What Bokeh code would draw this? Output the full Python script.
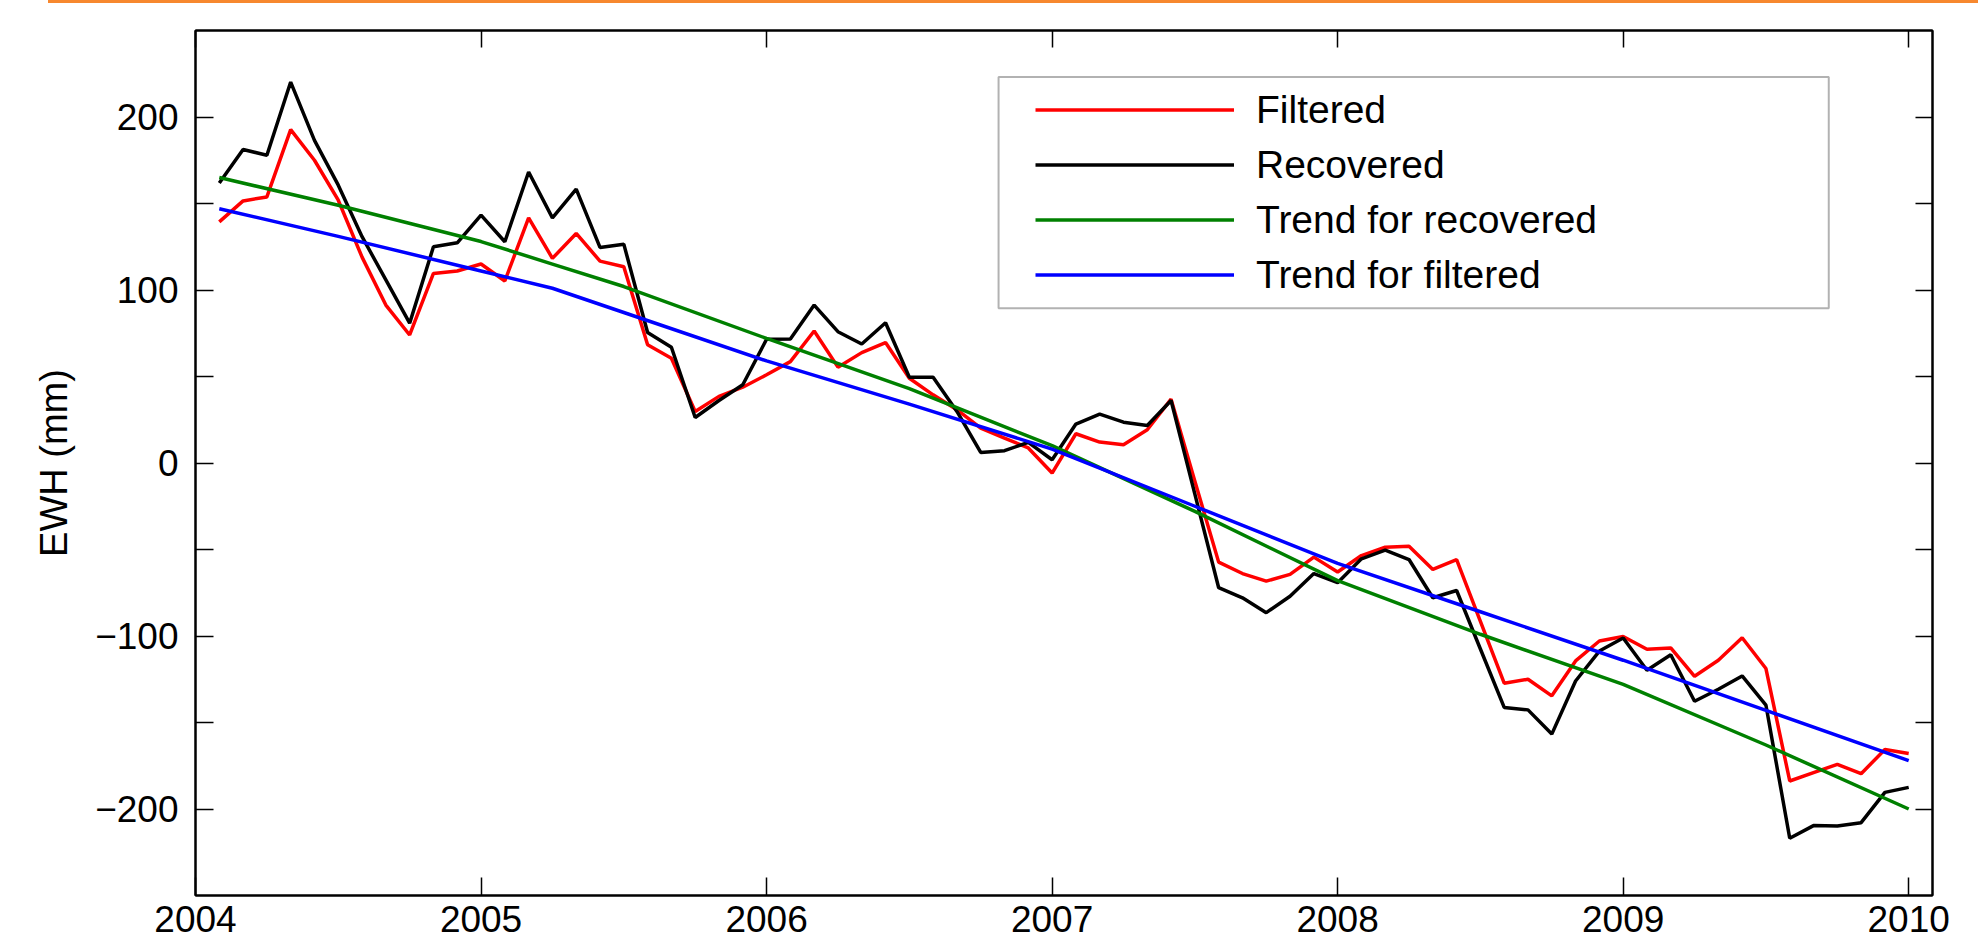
from bokeh.plotting import figure
from bokeh.models import (Range1d, LinearAxis, FixedTicker, Legend, LegendItem,
                          BoxAnnotation, Div)
from bokeh.layouts import column
from bokeh.embed import file_html
from bokeh.resources import INLINE

# ---------------- data (monthly, month index 1 = Feb 2004 ... 72 = Jan 2010) ----
months = list(range(1, 73))
recovered = [161.9, 181.2, 177.9, 220.2, 186.5, 160.6, 130.8, 105.8, 80.8, 125.0,
             127.3, 143.3, 127.9, 168.2, 141.7, 158.3, 124.6, 126.5, 75.4, 66.9,
             26.3, 36.1, 45.2, 71.5, 71.7, 91.3, 75.9, 68.8, 81.1, 49.6,
             49.6, 29.8, 6.1, 7.1, 11.9, 1.9, 22.5, 28.3, 23.6, 21.7,
             36.1, -18.0, -72.1, -77.9, -86.5, -77.0, -63.9, -69.2, -55.4, -50.4,
             -55.8, -77.9, -73.7, -107.5, -141.3, -142.7, -156.7, -126.0, -108.7, -101.2,
             -119.8, -110.8, -137.7, -130.8, -123.1, -140.0, -216.9, -209.6, -209.8, -207.9,
             -190.4, -187.5]
filtered = [139.4, 151.5, 153.8, 192.7, 175.0, 151.9, 119.0, 91.3, 74.0, 109.6,
            111.0, 115.0, 105.2, 141.7, 118.3, 132.7, 116.7, 113.4, 68.3, 60.6,
            29.8, 38.5, 43.8, 51.0, 58.6, 76.3, 55.4, 63.8, 69.6, 49.0,
            39.4, 30.8, 20.2, 14.4, 8.7, -5.8, 16.9, 12.1, 10.6, 19.2,
            36.9, -10.5, -57.3, -63.9, -68.3, -64.4, -54.4, -63.0, -53.5, -48.7,
            -48.1, -61.5, -55.8, -91.6, -127.3, -125.0, -134.6, -114.4, -102.9, -100.3,
            -107.7, -106.9, -123.3, -114.0, -101.0, -118.8, -183.8, -179.0, -174.2, -179.6,
            -165.6, -167.9]
trend_months = [1, 6, 12, 15, 18, 24, 30, 36, 42, 48, 54, 60, 66, 72]
trend_recovered = [165, 149, 128, 115, 102, 72, 43, 10, -28, -68, -99, -128, -163, -200]
trend_filtered = [147, 131, 111, 101, 87, 59, 34, 8, -25, -58, -86, -114, -143, -172]

year_ticks = [2004, 2005, 2006, 2007, 2008, 2009, 2010]
year_labels = ["2004", "2005", "2006", "2007", "2008", "2009", "2010"]
ewh_ticks = [-200, -100, 0, 100, 200]
ewh_labels = ["\u2212200", "\u2212100", "0", "100", "200"]
ewh_minor = [-150, -50, 50, 150]
series_names = ["Filtered", "Recovered", "Trend for recovered", "Trend for filtered"]

t = [2004 + m / 12 for m in months]
t_trend = [2004 + m / 12 for m in trend_months]

FONT = "Liberation Sans"

p = figure(width=1965, height=942, output_backend="svg", toolbar_location=None, tools="",
           x_range=Range1d(2004, 2010 + 1 / 12), y_range=Range1d(-250, 250),
           min_border_left=195, min_border_right=33, min_border_top=27, min_border_bottom=50)
p.xgrid.visible = False
p.ygrid.visible = False
p.outline_line_color = "black"
p.outline_line_width = 2
p.background_fill_color = "white"
p.border_fill_color = "white"

r_f = p.line(t, filtered, line_color="#ff0000", line_width=3.5)
r_r = p.line(t, recovered, line_color="black", line_width=3.5)
r_tr = p.line(t_trend, trend_recovered, line_color="#008000", line_width=3.5)
r_tf = p.line(t_trend, trend_filtered, line_color="#0000ff", line_width=3.5)

xb = p.xaxis[0]
xb.ticker = FixedTicker(ticks=year_ticks, minor_ticks=[])
xb.major_label_overrides = {k: v for k, v in zip(year_ticks, year_labels)}
yl = p.yaxis[0]
yl.ticker = FixedTicker(ticks=ewh_ticks, minor_ticks=ewh_minor)
yl.major_label_overrides = {k: v for k, v in zip(ewh_ticks, ewh_labels)}
yl.axis_label = "EWH (mm)"
yl.axis_label_text_font = FONT
yl.axis_label_text_font_size = "38px"
yl.axis_label_text_font_style = "normal"
yl.axis_label_text_color = "black"
yl.axis_label_standoff = 17

for ax in (xb, yl):
    ax.major_tick_in = 18
    ax.major_tick_out = 0
    ax.minor_tick_in = 18
    ax.minor_tick_out = 0
    ax.axis_line_color = "black"
    ax.axis_line_width = 2
    ax.major_tick_line_color = "black"
    ax.major_tick_line_width = 1.5
    ax.minor_tick_line_color = "black"
    ax.minor_tick_line_width = 1.5
    ax.major_label_text_font = FONT
    ax.major_label_text_font_size = "37px"
    ax.major_label_text_color = "black"
xb.major_label_standoff = 10
yl.major_label_standoff = 17

# ticks on the top and right edges of the box (no labels)
xa = LinearAxis(ticker=FixedTicker(ticks=[], minor_ticks=year_ticks),
                major_tick_in=0, major_tick_out=0, minor_tick_in=17, minor_tick_out=0,
                axis_line_color="black", axis_line_width=2, minor_tick_line_width=1.5)
yr = LinearAxis(ticker=FixedTicker(ticks=[], minor_ticks=ewh_ticks + ewh_minor),
                major_tick_in=0, major_tick_out=0, minor_tick_in=17, minor_tick_out=0,
                axis_line_color="black", axis_line_width=2, minor_tick_line_width=1.5)
p.add_layout(xa, "above")
p.add_layout(yr, "right")

# legend frame (layout position, in axis units)
box = BoxAnnotation(left=2006.8125, right=2009.72, top=223.1, bottom=89.5,
                    fill_color="white", fill_alpha=1.0, line_color="black", line_width=2)
p.add_layout(box)

legend = Legend(items=[LegendItem(label=n, renderers=[r]) for n, r in
                       zip(series_names, [r_f, r_r, r_tr, r_tf])],
                location=(840, 598), label_text_font=FONT, label_text_font_size="39px",
                label_text_color="black", glyph_width=199, glyph_height=45, label_height=45,
                label_standoff=22, spacing=10, padding=11, margin=0,
                border_line_color=None, background_fill_alpha=0)
p.add_layout(legend)

bar = Div(text="", width=1930, height=3, margin=(0, 0, 0, 48),
          styles={"background-color": "#f7882f"})

layout = column(bar, p, spacing=0)
open("out.html", "w").write(file_html(layout, INLINE))
